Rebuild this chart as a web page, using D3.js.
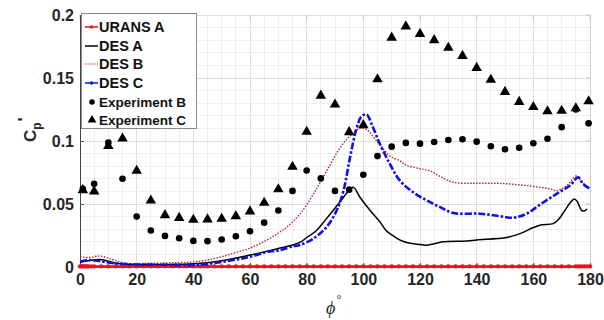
<!DOCTYPE html>
<html><head><meta charset="utf-8">
<script src="https://cdn.jsdelivr.net/npm/d3@7"></script>
<style>body{margin:0;background:#fff}svg{display:block}</style>
</head><body>
<svg id="c" width="604" height="320"></svg>
<script>
const xTicks = [0,20,40,60,80,100,120,140,160,180];
const yTicks = [0,0.05,0.1,0.15,0.2];
const yTickLabels = ["0","0.05","0.1","0.15","0.2"];

const uransPhi = [0,0.5,1,1.5,2,2.5,3,4,5,7.5,10,12.5,15,17.5,20,22.5,25,27.5,30,32.5,35,37.5,40,42.5,45,47.5,50,52.5,55,57.5,60,62.5,65,67.5,70,72.5,75,77.5,80,82.5,85,87.5,90,92.5,95,97.5,100,102.5,105,107.5,110,112.5,115,117.5,120,122.5,125,127.5,130,132.5,135,137.5,140,142.5,145,147.5,150,152.5,155,157.5,160,162.5,165,167.5,170,172.5,175,176,177,178,179,180];
const uransA = [0.0005,0.0005,0.0005,0.0005,0.0005,0.0005,0.0005,0.0005,0.0005,0.0005,0.0005,0.0005,0.0005,0.0005,0.0005,0.0005,0.0005,0.0005,0.0005,0.0005,0.0005,0.0005,0.0005,0.0005,0.0005,0.0005,0.0005,0.0005,0.0005,0.0005,0.0005,0.0005,0.0005,0.0005,0.0005,0.0005,0.0005,0.0005,0.0005,0.0005,0.0005,0.0005,0.0005,0.0005,0.0005,0.0005,0.0005,0.0005,0.0005,0.0005,0.0005,0.0005,0.0005,0.0005,0.0005,0.0005,0.0005,0.0005,0.0005,0.0005,0.0005,0.0005,0.0005,0.0005,0.0005,0.0005,0.0005,0.0005,0.0005,0.0005,0.0005,0.0005,0.0005,0.0005,0.0005,0.0005,0.0005,0.0005,0.0005,0.0005,0.0005,0.0005];

const desA = [[0,0.004],[3,0.005],[7,0.006],[10,0.0045],[14,0.0025],[20,0.002],[30,0.002],[40,0.0025],[50,0.005],[60,0.0095],[65,0.012],[70,0.0147],[75,0.0175],[78,0.02],[80,0.0234],[83.5,0.029],[86.5,0.037],[89.4,0.045],[93,0.0554],[95,0.061],[96.5,0.0632],[98.8,0.0554],[102.4,0.0449],[105.9,0.0357],[108,0.029],[110,0.0255],[113,0.0213],[116,0.019],[120,0.0178],[122,0.0173],[125,0.0185],[128,0.02],[136.5,0.0207],[140,0.0215],[150.6,0.0234],[155.3,0.0265],[160,0.0313],[163,0.0335],[167,0.0344],[169,0.038],[171,0.0445],[173,0.051],[174.5,0.054],[175.5,0.052],[177,0.045],[178,0.0445],[179,0.046]];
const desB = [[0,0.0081],[3,0.0075],[7,0.0087],[10,0.007],[12,0.0055],[16,0.003],[25,0.003],[35,0.0035],[42,0.0045],[48,0.007],[54,0.0108],[60,0.015],[66,0.0215],[70,0.027],[73,0.0317],[77.6,0.042],[82.4,0.058],[87.1,0.0764],[91.8,0.0947],[95.3,0.104],[98.8,0.11],[101.2,0.109],[104.7,0.1],[109.4,0.088],[112.9,0.0843],[115,0.081],[120,0.078],[123.5,0.0764],[127,0.072],[131.8,0.0672],[140,0.0665],[148,0.0664],[157.6,0.0646],[165.9,0.062],[168.2,0.0606],[171.8,0.0646],[175.3,0.0724],[177.1,0.0672],[179.4,0.0632]];
const desC = [[0,0.0042],[3.5,0.0055],[7,0.0047],[11.8,0.003],[20,0.002],[30,0.0018],[42,0.0018],[54,0.0055],[60,0.0081],[66,0.012],[70.6,0.0134],[75.3,0.0165],[77.6,0.0175],[82.4,0.0226],[87,0.0317],[90.6,0.0449],[93,0.0606],[95.3,0.0869],[97.6,0.11],[99.4,0.1197],[101.2,0.121],[103,0.113],[105.9,0.0974],[109.4,0.0817],[112.9,0.0685],[117.6,0.0593],[122.4,0.0528],[127.1,0.0475],[131.8,0.0428],[141.2,0.0423],[148.2,0.0404],[152.9,0.0391],[157.6,0.0423],[162.4,0.0496],[168.2,0.058],[172.9,0.0646],[175.8,0.0711],[177.6,0.0659],[180,0.062]];

const expBPhi = [1,5,10,15,20,25,30,35,40,45,50,55,60,65,70,75,80,85,90,95,100,105,110,115,120,125,130,135,140,145,150,155,160,165,170,175,179.5];
const expB = [0.062,0.066,0.0987,0.070,0.040,0.029,0.0247,0.0228,0.0207,0.0205,0.0218,0.0244,0.0284,0.0352,0.0449,0.0604,0.0766,0.0703,0.0604,0.0614,0.0732,0.088,0.0955,0.0985,0.0979,0.0992,0.1008,0.1013,0.0995,0.0958,0.0934,0.0947,0.0982,0.1018,0.111,0.125,0.114];
const expCPhi = [1,5,10,15,20,25,30,35,40,45,50,55,60,65,70,75,80,85,90,95,100,105,110,115,120,125,130,135,140,145,150,155,160,165,170,175,179.5];
const expC = [0.061,0.060,0.096,0.102,0.0764,0.0528,0.0412,0.039,0.0375,0.0378,0.0383,0.0404,0.0441,0.051,0.0617,0.0795,0.1073,0.136,0.129,0.107,0.1126,0.149,0.182,0.191,0.185,0.180,0.174,0.1675,0.158,0.1486,0.139,0.131,0.127,0.1236,0.124,0.126,0.1315];

const svg = d3.select("#c");
const x = d3.scaleLinear().domain([0,180]).range([80,590]);
const y = d3.scaleLinear().domain([0,0.2]).range([267,15]);
const font = "'Liberation Sans', Arial, sans-serif";

// grid
const g = svg.append("g");
g.selectAll(".vmin").data(d3.range(0,181,5)).join("line")
  .attr("x1",d=>x(d)).attr("x2",d=>x(d)).attr("y1",y(0)).attr("y2",y(0.2))
  .attr("stroke",d=>d%20===0?"#dedede":"#efefef").attr("stroke-width",1).attr("shape-rendering","crispEdges");
g.selectAll(".hmin").data(d3.range(0,21,1)).join("line")
  .attr("y1",d=>y(d/100)).attr("y2",d=>y(d/100)).attr("x1",x(0)).attr("x2",x(180))
  .attr("stroke",d=>d%5===0?"#dedede":"#efefef").attr("stroke-width",1).attr("shape-rendering","crispEdges");

// right border
svg.append("line").attr("x1",x(180)).attr("x2",x(180)).attr("y1",y(0)).attr("y2",y(0.2))
  .attr("stroke","#cfcfcf").attr("shape-rendering","crispEdges");
// top ticks
svg.selectAll(".tt").data(xTicks).join("line").attr("x1",d=>x(d)).attr("x2",d=>x(d))
  .attr("y1",y(0.2)).attr("y2",y(0.2)+4).attr("stroke","#c8c8c8");
svg.selectAll(".rt").data(yTicks).join("line").attr("x1",x(180)-4).attr("x2",x(180))
  .attr("y1",d=>y(d)).attr("y2",d=>y(d)).attr("stroke","#c8c8c8");

// axes
const xAxis = d3.axisBottom(x).tickValues(xTicks).tickSize(-4).tickPadding(7);
const gx = svg.append("g").attr("transform",`translate(0,${y(0)})`).call(xAxis);
gx.select(".domain").attr("stroke","#555");
gx.selectAll(".tick line").attr("stroke","#555");
gx.selectAll("text").attr("font-family",font).attr("font-weight","bold").attr("font-size",16).attr("fill","#262626");

const yAxis = d3.axisLeft(y).tickValues(yTicks).tickFormat((d,i)=>yTickLabels[i]).tickSize(-4).tickPadding(6);
const gy = svg.append("g").attr("transform",`translate(${x(0)},0)`).call(yAxis);
gy.select(".domain").attr("stroke","#444");
gy.selectAll(".tick line").attr("stroke","#555");
gy.selectAll("text").attr("font-family",font).attr("font-weight","bold").attr("font-size",16).attr("fill","#262626");

// labels
const yl = svg.append("text").attr("transform","translate(36,142) rotate(-90)")
  .attr("font-family",font).attr("font-weight","bold").attr("font-size",17).attr("fill","#262626");
yl.append("tspan").text("C");
yl.append("tspan").attr("font-size",12).attr("dy",5).text("p");
yl.append("tspan").attr("dy",-11).attr("dx",1).text("'");
const xl = svg.append("text").attr("x",326).attr("y",314)
  .attr("font-family","'Liberation Serif', 'Times New Roman', serif").attr("font-style","italic").attr("font-size",18).attr("fill","#262626");
xl.append("tspan").text("\u03D5");
xl.append("tspan").attr("font-size",12).attr("dy",-11).attr("dx",1).text("\u00B0");

const line = d3.line().x(d=>x(d[0])).y(d=>y(d[1])).curve(d3.curveCatmullRom);

// URANS A
const uransData = uransPhi.map((p,i)=>[p,uransA[i]]);
svg.append("path").datum(uransData).attr("d",d3.line().x(d=>x(d[0])).y(d=>y(d[1])))
  .attr("fill","none").attr("stroke","#e8141c").attr("stroke-width",2);
svg.selectAll(".um").data(uransData).join("circle").attr("cx",d=>x(d[0])).attr("cy",d=>y(d[1])).attr("r",2.2).attr("fill","#e8141c");

// DES A
svg.append("path").datum(desA).attr("d",line).attr("fill","none").attr("stroke","#000").attr("stroke-width",1.5);
// DES B
svg.append("path").datum(desB).attr("d",line).attr("fill","none").attr("stroke","#b0282c").attr("stroke-width",1.4).attr("stroke-dasharray","1.5,1.5");
// DES C
svg.append("path").datum(desC).attr("d",line).attr("fill","none").attr("stroke","#1010e0").attr("stroke-width",2.6).attr("stroke-dasharray","7,2,2.5,2");

// experiments
svg.selectAll(".eb").data(expBPhi.map((p,i)=>[p,expB[i]])).join("circle")
  .attr("cx",d=>x(d[0])).attr("cy",d=>y(d[1])).attr("r",3.3).attr("fill","#000");
const tri = d3.symbol().type(d3.symbolTriangle).size(48);
svg.selectAll(".ec").data(expCPhi.map((p,i)=>[p,expC[i]])).join("path")
  .attr("transform",d=>`translate(${x(d[0])},${y(d[1])})`).attr("d",tri).attr("fill","#000");

// legend
const lg = svg.append("g");
lg.append("rect").attr("x",81.5).attr("y",13.5).attr("width",115).attr("height",115)
  .attr("fill","#fff").attr("stroke","#8a8a8a").attr("stroke-width",1);
const legItems = ["URANS A","DES A","DES B","DES C","Experiment B","Experiment C"];
const ly = [27,46,64,83,102,120];
legItems.forEach((t,i)=>{
  const yy = ly[i];
  if(i===0){
    lg.append("line").attr("x1",85).attr("x2",98).attr("y1",yy).attr("y2",yy).attr("stroke","#e8141c").attr("stroke-width",1.5);
    lg.append("circle").attr("cx",91.5).attr("cy",yy).attr("r",1.8).attr("fill","#e8141c");
  } else if(i===1){
    lg.append("line").attr("x1",85).attr("x2",98).attr("y1",yy).attr("y2",yy).attr("stroke","#000").attr("stroke-width",1.5);
  } else if(i===2){
    lg.append("line").attr("x1",85).attr("x2",98).attr("y1",yy).attr("y2",yy).attr("stroke","#b0282c").attr("stroke-width",1.2).attr("stroke-dasharray","1.2,1.2");
  } else if(i===3){
    lg.append("line").attr("x1",85).attr("x2",98).attr("y1",yy).attr("y2",yy).attr("stroke","#1010e0").attr("stroke-width",1.5);
    lg.append("circle").attr("cx",91.5).attr("cy",yy).attr("r",1.8).attr("fill","#1010e0");
  } else if(i===4){
    lg.append("circle").attr("cx",92).attr("cy",yy).attr("r",2.8).attr("fill","#000");
  } else {
    lg.append("path").attr("transform",`translate(92,${yy})`).attr("d",d3.symbol().type(d3.symbolTriangle).size(34)).attr("fill","#000");
  }
  lg.append("text").attr("x",99).attr("y",yy+5).text(t)
    .attr("font-family",font).attr("font-weight","bold").attr("font-size",i>=4?13.5:14.5).attr("fill","#111");
});
</script>
</body></html>
